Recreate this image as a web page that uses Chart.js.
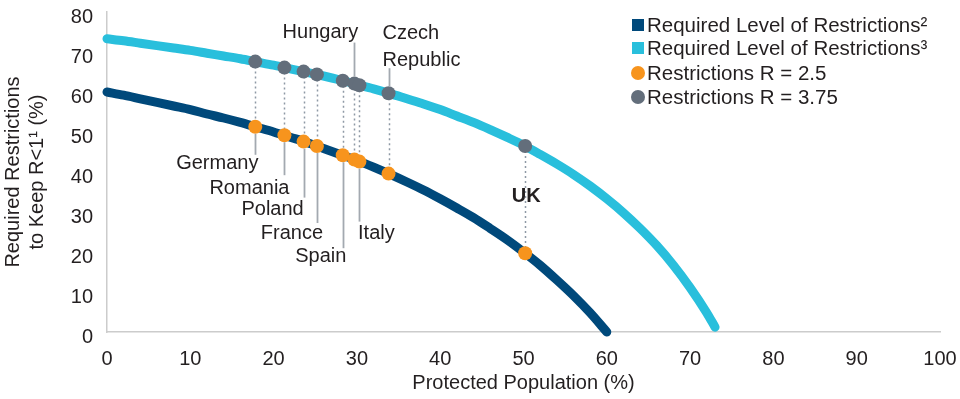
<!DOCTYPE html>
<html><head><meta charset="utf-8">
<script src="https://cdn.jsdelivr.net/npm/chart.js@4/dist/chart.umd.min.js"></script>
<style>html,body{margin:0;padding:0;background:#fff}#wrap{width:960px;height:399px;position:relative}</style>
</head><body><div id="wrap"><canvas id="c"></canvas></div>
<script>
// ---- data ----
const protectedLow = [0,2,4,6,8,10,12,14,16,18,20,22,24,26,28,30,32,34,36,38,40,42,44,46,48,50,52,54,56,58,60];
const requiredLow  = [60.0,59.2,58.3,57.4,56.5,55.6,54.5,53.5,52.4,51.2,50.0,48.7,47.4,45.9,44.4,42.9,41.2,39.4,37.5,35.5,33.3,31.0,28.6,25.9,23.1,20.0,16.7,13.0,9.1,4.8,0.0];
const protectedHigh = [0,2,4,6,8,10,12,14,16,18,20,22,24,26,28,30,32,34,36,38,40,42,44,46,48,50,52,54,56,58,60,62,64,66,68,70,72,73];
const requiredHigh  = [73.3,72.8,72.2,71.6,71.0,70.4,69.7,69.0,68.3,67.5,66.7,65.8,64.9,64.0,63.0,61.9,60.8,59.6,58.3,57.0,55.6,54.0,52.4,50.6,48.7,46.7,44.4,42.0,39.4,36.5,33.3,29.8,25.9,21.6,16.7,11.1,4.8,1.2];
const countries = ['Germany','Romania','Poland','France','Spain','Hungary','Italy','Czech Republic','UK'];
const countryProtected = [17.8,21.3,23.6,25.2,28.3,29.7,30.3,33.8,50.2];
const countryR25  = [51.3,49.2,47.6,46.5,44.2,43.1,42.6,39.6,19.7];
const countryR375 = [67.6,66.1,65.1,64.4,62.8,62.1,61.7,59.7,46.5];
const legendLabels = ['Required Level of Restrictions\u00B2','Required Level of Restrictions\u00B3','Restrictions R = 2.5','Restrictions R = 3.75'];

// ---- styling / layout (not data) ----
const NAVY='#00497b', CYAN='#29bfdc', ORANGE='#f7941d', GREY='#636e7b', TEXT='#231f20';
const FONT="'Liberation Sans', Arial, Helvetica, sans-serif";
const PLOT = {left:107, right:940, top:12, bottom:332};
// label placement relative to the point (pixels): anchor series, label centre offset, leader end offset
const labelLayout = {
  'Germany':       {on:'low',  dx:-38, dy:37,  leader:28},
  'Romania':       {on:'low',  dx:-35, dy:53,  leader:40},
  'Poland':        {on:'low',  dx:-31, dy:68,  leader:56},
  'France':        {on:'low',  dx:-25, dy:87,  leader:77},
  'Spain':         {on:'low',  dx:-22, dy:101, leader:93},
  'Italy':         {on:'low',  dx:17,  dy:72,  leader:60},
  'Hungary':       {on:'high', dx:-34, dy:-51, leader:-41},
  'Czech Republic':{on:'high', dx:-6,  dy:-60, leader:-25, wrap:true, align:'left'},
  'UK':            {on:'low',  dx:1,   dy:-57, leader:null, bold:true}
};

Chart.defaults.font.family = FONT;
Chart.defaults.color = TEXT;

const toXY = (xs, ys) => xs.map((v,i)=>({x:v, y:ys[i]}));

const fixArea = {
  id:'fixArea',
  afterLayout(chart){
    const ca = chart.chartArea, {x, y} = chart.scales;
    Object.assign(ca, {left:PLOT.left, right:PLOT.right, top:PLOT.top, bottom:PLOT.bottom,
      width:PLOT.right-PLOT.left, height:PLOT.bottom-PLOT.top});
    Object.assign(x, {left:PLOT.left, right:PLOT.right, width:PLOT.right-PLOT.left,
      top:PLOT.bottom, bottom:chart.height, height:chart.height-PLOT.bottom});
    Object.assign(y, {left:0, right:PLOT.left, width:PLOT.left,
      top:PLOT.top, bottom:PLOT.bottom, height:PLOT.bottom-PLOT.top});
    x.configure(); y.configure();
    x._labelItems = null; y._labelItems = null;
    x._gridLineItems = null; y._gridLineItems = null;
  }
};

const annotate = {
  id:'annotate',
  beforeDatasetsDraw(chart){
    const {ctx, scales:{x,y}} = chart;
    ctx.save();
    ctx.strokeStyle='#8e99a5'; ctx.lineWidth=1.5; ctx.setLineDash([2,3]);
    countryProtected.forEach((p,i)=>{
      const px=Math.round(x.getPixelForValue(p))+0.5;
      ctx.beginPath();
      ctx.moveTo(px, y.getPixelForValue(countryR375[i]));
      ctx.lineTo(px, y.getPixelForValue(countryR25[i]));
      ctx.stroke();
    });
    ctx.restore();
  },
  afterDatasetsDraw(chart){
    const {ctx, scales:{x,y}} = chart;
    ctx.save();
    countries.forEach((name,i)=>{
      const L = labelLayout[name];
      const px = x.getPixelForValue(countryProtected[i]);
      const py = y.getPixelForValue(L.on==='low' ? countryR25[i] : countryR375[i]);
      if (L.leader!==null){
        const lx = Math.round(px)+0.5;
        ctx.strokeStyle='#a3a9b0'; ctx.lineWidth=1.8; ctx.setLineDash([]);
        ctx.beginPath();
        ctx.moveTo(lx, py + (L.leader>0 ? 7 : -7));
        ctx.lineTo(lx, py + L.leader);
        ctx.stroke();
      }
      ctx.fillStyle=TEXT;
      ctx.font=(L.bold?'bold ':'')+'20px '+FONT;
      ctx.textBaseline='middle';
      ctx.textAlign=L.align||'center';
      const lines = L.wrap ? name.split(' ') : [name];
      lines.forEach((t,k)=>ctx.fillText(t, px+L.dx, py+L.dy+k*27));
    });
    ctx.restore();
  },
  afterDraw(chart){
    const ctx = chart.ctx;
    ctx.save();
    const mx=638, tx=647, ys=[25,48,73,97];
    const kinds=[['sq',NAVY],['sq',CYAN],['ci',ORANGE],['ci',GREY]];
    legendLabels.forEach((t,i)=>{
      const [k,c]=kinds[i];
      ctx.fillStyle=c;
      if(k==='sq'){ ctx.fillRect(mx-6, ys[i]-6, 12, 12); }
      else { ctx.beginPath(); ctx.arc(mx, ys[i], 7, 0, Math.PI*2); ctx.fill(); }
      ctx.fillStyle=TEXT; ctx.font='20.5px '+FONT; ctx.textBaseline='middle'; ctx.textAlign='left';
      ctx.fillText(t, tx, ys[i]+1);
    });
    ctx.restore();
  }
};

new Chart(document.getElementById('c'), {
  type:'scatter',
  data:{datasets:[
    {label:legendLabels[2], data:toXY(countryProtected,countryR25), backgroundColor:ORANGE, borderColor:ORANGE, pointRadius:7, pointHoverRadius:7, borderWidth:0, order:0, clip:false},
    {label:legendLabels[3], data:toXY(countryProtected,countryR375), backgroundColor:GREY, borderColor:GREY, pointRadius:7, pointHoverRadius:7, borderWidth:0, order:0, clip:false},
    {label:legendLabels[0], data:toXY(protectedLow,requiredLow), showLine:true, borderColor:NAVY, backgroundColor:NAVY, borderWidth:9, pointRadius:0, tension:0.4, cubicInterpolationMode:'monotone', borderCapStyle:'round', borderJoinStyle:'round', order:1, clip:false},
    {label:legendLabels[1], data:toXY(protectedHigh,requiredHigh), showLine:true, borderColor:CYAN, backgroundColor:CYAN, borderWidth:9, pointRadius:0, tension:0.4, cubicInterpolationMode:'monotone', borderCapStyle:'round', borderJoinStyle:'round', order:1, clip:false}
  ]},
  options:{
    responsive:true, maintainAspectRatio:false, animation:false,
    layout:{padding:{left:0,right:20,top:12,bottom:0}},
    plugins:{legend:{display:false}, tooltip:{enabled:false}},
    scales:{
      x:{type:'linear', min:0, max:100,
        ticks:{stepSize:10, padding:15, font:{size:20}, color:TEXT},
        grid:{display:false, drawTicks:false},
        border:{display:true, color:'#cccccc', width:1.5},
        title:{display:true, text:'Protected Population (%)', font:{size:20, lineHeight:1.2}, color:TEXT, padding:{top:0,bottom:4}},
        afterFit(s){ s.height=67; }
      },
      y:{min:0, max:80,
        ticks:{stepSize:10, padding:14, labelOffset:5, font:{size:20}, color:TEXT},
        grid:{display:false, drawTicks:false},
        border:{display:true, color:'#cccccc', width:1.5},
        title:{display:true, text:['Required Restrictions','to Keep R<1\u00B9 (%)'], font:{size:20, lineHeight:1.2}, color:TEXT, padding:{top:1,bottom:0}},
        afterFit(s){ s.width=107; }
      }
    }
  },
  plugins:[fixArea, annotate]
});
</script></body></html>
